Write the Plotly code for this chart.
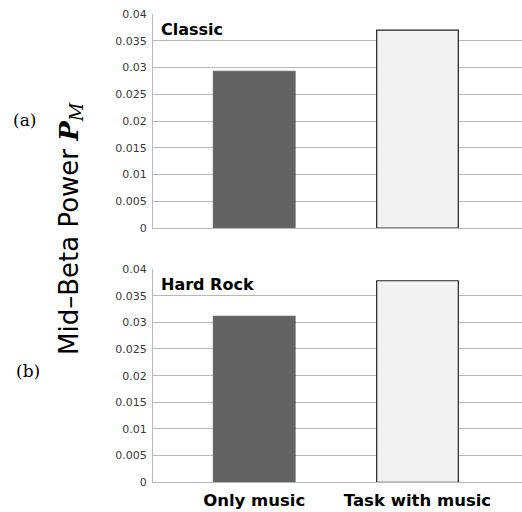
import plotly.graph_objects as go

categories = ["Only music", "Task with music"]
classic_values = [0.0293, 0.0370]
hardrock_values = [0.0311, 0.0378]
panel_titles = ["Classic", "Hard Rock"]
panel_labels = ["(a)", "(b)"]
tick_vals = [0, 0.005, 0.01, 0.015, 0.02, 0.025, 0.03, 0.035, 0.04]
tick_text = ["0", "0.005", "0.01", "0.015", "0.02", "0.025", "0.03", "0.035", "0.04"]
bar_colors = ["#636363", "#f2f2f2"]
bar_lines = ["#6a6a6a", "#222222"]

W, H = 522, 512
fig = go.Figure()

for i, (vals, ax) in enumerate([(classic_values, ""), (hardrock_values, "2")]):
    fig.add_trace(go.Bar(
        x=categories, y=vals, width=0.5,
        marker=dict(color=bar_colors, line=dict(color=bar_lines, width=1.2)),
        xaxis="x" + ax, yaxis="y" + ax, showlegend=False,
    ))

x0 = 153 / W
ydom_top = [1 - 228 / H, 1 - 14 / H]
ydom_bot = [1 - 482.3 / H, 1 - 269 / H]

yax = dict(range=[0, 0.04], tickvals=tick_vals, ticktext=tick_text,
           showgrid=True, gridcolor="#b8b8b8", gridwidth=1,
           showline=True, linecolor="#b8b8b8", linewidth=1,
           ticks="", zeroline=False, automargin=False, ticklabelstandoff=3,
           tickfont=dict(family="DejaVu Sans", size=11, color="#3a3a3a"))
xax = dict(range=[-0.62, 1.64], domain=[x0, 1], showgrid=False, zeroline=False,
           showline=True, linecolor="#b8b8b8", linewidth=1, ticks="",
           automargin=False)

fig.update_layout(
    width=W, height=H, margin=dict(l=0, r=0, t=0, b=0, autoexpand=False),
    paper_bgcolor="white", plot_bgcolor="white",
    xaxis=dict(xax, anchor="y", showticklabels=False),
    yaxis=dict(yax, domain=ydom_top, anchor="x"),
    xaxis2=dict(xax, anchor="y2", showticklabels=True, ticklabelstandoff=3,
                tickfont=dict(family="DejaVu Sans", size=16.5, color="black"),
                tickprefix="<b>", ticksuffix="</b>"),
    yaxis2=dict(yax, domain=ydom_bot, anchor="x2"),
)

annotations = []
for title, ytop in zip(panel_titles, [ydom_top[1], ydom_bot[1]]):
    annotations.append(dict(text="<b>" + title + "</b>", xref="paper", yref="paper",
                            x=159 / W, y=ytop - 15 / H, xanchor="left", yanchor="middle",
                            showarrow=False,
                            font=dict(family="DejaVu Sans", size=16, color="black")))
for lab, xx, yy in zip(panel_labels, [24, 28], [120, 371]):
    annotations.append(dict(text=lab, xref="paper", yref="paper",
                            x=xx / W, y=1 - yy / H, xanchor="center", yanchor="middle",
                            showarrow=False,
                            font=dict(family="DejaVu Serif", size=17, color="black")))
annotations.append(dict(
    text="Mid\u2013Beta Power <span style='font-family:DejaVu Serif'><b><i>P</i></b><sub><i>M</i></sub></span>",
    xref="paper", yref="paper", x=70 / W, y=1 - 229 / H, textangle=-90,
    xanchor="center", yanchor="middle", showarrow=False,
    font=dict(family="DejaVu Sans", size=26, color="black")))
fig.update_layout(annotations=annotations)

fig.write_html("out.html", config={"displayModeBar": False},
               post_script="document.body.style.margin='0';")
